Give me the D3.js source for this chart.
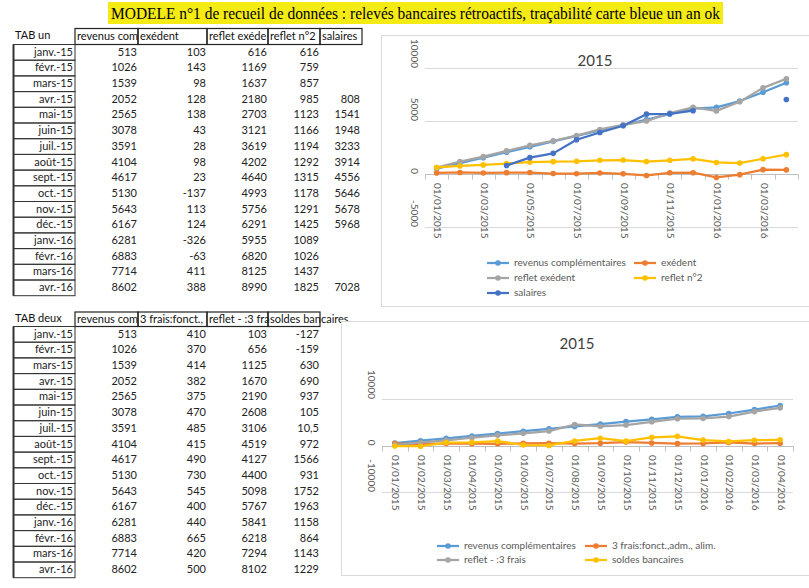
<!DOCTYPE html>
<html>
<head>
<meta charset="utf-8">
<script src="https://cdn.jsdelivr.net/npm/d3@7"></script>
<style>
  body { margin: 0; background: #fff; }
  svg { display: block; }
</style>
</head>
<body>
<div id="page"></div>
<script>
// Data
var months = ["janv.-15", "févr.-15", "mars-15", "avr.-15", "mai-15", "juin-15", "juil.-15", "août-15",
  "sept.-15", "oct.-15", "nov.-15", "déc.-15", "janv.-16", "févr.-16", "mars-16", "avr.-16"];
var dates = ["01/01/2015", "01/02/2015", "01/03/2015", "01/04/2015", "01/05/2015", "01/06/2015",
  "01/07/2015", "01/08/2015", "01/09/2015", "01/10/2015", "01/11/2015", "01/12/2015",
  "01/01/2016", "01/02/2016", "01/03/2016", "01/04/2016"];

// TAB un
var revenus = [513, 1026, 1539, 2052, 2565, 3078, 3591, 4104, 4617, 5130, 5643, 6167, 6281, 6883, 7714, 8602];
var excedent = [103, 143, 98, 128, 138, 43, 28, 98, 23, -137, 113, 124, -326, -63, 411, 388];
var refletExcedent = [616, 1169, 1637, 2180, 2703, 3121, 3619, 4202, 4640, 4993, 5756, 6291, 5955, 6820, 8125, 8990];
var refletN2 = [616, 759, 857, 985, 1123, 1166, 1194, 1292, 1315, 1178, 1291, 1425, 1089, 1026, 1437, 1825];
var salaires = [null, null, null, 808, 1541, 1948, 3233, 3914, 4556, 5646, 5678, 5968, null, null, null, 7028];

// TAB deux
var frais = [410, 370, 414, 382, 375, 470, 485, 415, 490, 730, 545, 400, 440, 665, 420, 500];
var refletFrais = [103, 656, 1125, 1670, 2190, 2608, 3106, 4519, 4127, 4400, 5098, 5767, 5841, 6218, 7294, 8102];
var soldes = [-127, -159, 630, 690, 937, 105, 10.5, 972, 1566, 931, 1752, 1963, 1158, 864, 1143, 1229];

// header cells as they show in the sheet (cut by the cell width)
var cellsUn = ["revenus com", "exédent", "reflet exéde", "reflet n°2", "salaires"];
var cellsDeux = ["revenus com", "3 frais:fonct.,", "reflet - :3 fra", "soldes bancaires"];
// series names used in the legends
var namesUn = ["revenus complémentaires", "exédent", "reflet exédent", "reflet n°2", "salaires"];
var namesDeux = ["revenus complémentaires", "3 frais:fonct.,adm., alim.", "reflet - :3 frais", "soldes bancaires"];

var ticksUn = [10000, 5000, 0, -5000];
var ticksDeux = [10000, 0, -10000];

var colors = {blue: "#5B9BD5", orange: "#ED7D31", gray: "#A5A5A5", yellow: "#FFC000", navy: "#4472C4"};

var W = 809, H = 588;
var svg = d3.select("#page").append("svg").attr("width", W).attr("height", H);

var font = "Lato, 'Open Sans', sans-serif";

// Title with highlight
var title = "MODELE n°1 de recueil de données : relevés bancaires rétroactifs, traçabilité carte bleue un an ok";
svg.append("rect").attr("x", 108).attr("y", 2).attr("width", 615).attr("height", 22).attr("fill", "#F5EB14");
svg.append("text")
  .attr("x", 111).attr("y", 19)
  .attr("textLength", 609).attr("lengthAdjust", "spacingAndGlyphs")
  .style("font-family", "'Liberation Serif', 'Times New Roman', serif")
  .style("font-size", "17px")
  .text(title);

// Draw one spreadsheet block
function drawTable(opt) {
  var g = svg.append("g");
  var colEdges = [75, 138, 207, 268, 320, 362];
  var rowH = 15.7;

  g.append("text").attr("x", 15).attr("y", opt.headY + opt.headH / 2)
    .attr("dominant-baseline", "middle")
    .style("font-family", font).style("font-size", "11px").style("fill", "#111")
    .text(opt.label);

  opt.headers.forEach(function(h, i) {
    var x0 = colEdges[i], x1 = colEdges[i + 1];
    g.append("text").attr("x", x0 + 2).attr("y", opt.headY + opt.headH / 2 + 0.5)
      .attr("dominant-baseline", "middle")
      .style("font-family", font).style("font-size", "11px").style("fill", "#111")
      .text(h);
    g.append("rect").attr("x", x0).attr("y", opt.headY).attr("width", x1 - x0).attr("height", opt.headH)
      .attr("fill", "none").attr("stroke", "#222").attr("stroke-width", 1.2);
  });

  var top = opt.headY + opt.headH;
  months.forEach(function(m, r) {
    var y = top + r * rowH;
    g.append("rect").attr("x", 13.5).attr("y", y).attr("width", 61.5).attr("height", rowH)
      .attr("fill", "none").attr("stroke", "#333").attr("stroke-width", 1);
    g.append("text").attr("x", 73).attr("y", y + rowH / 2 + 0.5)
      .attr("text-anchor", "end").attr("dominant-baseline", "middle")
      .style("font-family", font).style("font-size", "11px").style("fill", "#222")
      .text(m);
    opt.columns.forEach(function(col, c) {
      var v = col[r];
      if (v === null) return;
      g.append("text").attr("x", colEdges[c + 1] - (c === 4 ? 2 : 1)).attr("y", y + rowH / 2 + 0.5)
        .attr("text-anchor", "end").attr("dominant-baseline", "middle")
        .style("font-family", font).style("font-size", "11px").style("fill", "#222")
        .text(String(v).replace(".", ","));
    });
  });
  g.append("line").attr("x1", 13.5).attr("x2", 13.5).attr("y1", top).attr("y2", top + 16 * rowH)
    .attr("stroke", "#333").attr("stroke-width", 2);
}

drawTable({label: "TAB un", headY: 28.5, headH: 16,
  headers: cellsUn, columns: [revenus, excedent, refletExcedent, refletN2, salaires]});
drawTable({label: "TAB deux", headY: 312, headH: 14.5,
  headers: cellsDeux, columns: [revenus, frais, refletFrais, soldes]});

// Excel style line chart
function drawChart(opt) {
  var g = svg.append("g");
  g.append("rect").attr("x", opt.frame[0] + 0.5).attr("y", opt.frame[1] + 0.5)
    .attr("width", opt.frame[2]).attr("height", opt.frame[3])
    .attr("fill", "#fff").attr("stroke", "#D9D9D9");

  var x = d3.scaleBand().domain(dates).range(opt.xRange).paddingInner(0).paddingOuter(0);
  var y = d3.scaleLinear().domain(opt.yDomain).range(opt.yRange);
  var cx = function(i) { return x(dates[i]) + x.bandwidth() / 2; };

  // gridlines
  opt.ticks.forEach(function(t) {
    if (t === 0) return;
    g.append("line").attr("x1", opt.xRange[0]).attr("x2", opt.xRange[1])
      .attr("y1", Math.round(y(t)) + 0.5).attr("y2", Math.round(y(t)) + 0.5)
      .attr("stroke", "#D9D9D9");
  });
  // y labels, rotated
  opt.ticks.forEach(function(t) {
    g.append("text").attr("x", opt.yLabelX).attr("y", y(t))
      .attr("transform", "rotate(90," + opt.yLabelX + "," + y(t) + ")")
      .attr("text-anchor", "end").attr("dominant-baseline", "middle")
      .style("font-family", font).style("font-size", "10px").style("fill", "#595959")
      .text(t);
  });
  // category axis at 0
  var y0 = Math.round(y(0)) + 0.5;
  g.append("line").attr("x1", opt.xRange[0]).attr("x2", opt.xRange[1])
    .attr("y1", y0).attr("y2", y0).attr("stroke", "#BFBFBF");
  dates.concat([null]).forEach(function(d) {
    var tx = Math.round(d === null ? opt.xRange[1] : x(d)) + 0.5;
    g.append("line").attr("x1", tx).attr("x2", tx).attr("y1", y0).attr("y2", y0 + 5)
      .attr("stroke", "#BFBFBF");
  });
  dates.forEach(function(d, i) {
    if (i % opt.labelStep !== 0) return;
    var lx = cx(i);
    g.append("text").attr("x", lx).attr("y", opt.xLabelY)
      .attr("transform", "rotate(90," + lx + "," + opt.xLabelY + ")")
      .attr("dominant-baseline", "middle")
      .style("font-family", font).style("font-size", "10px").style("fill", "#595959")
      .text(d);
  });

  // title
  g.append("text").attr("x", opt.titlePos[0]).attr("y", opt.titlePos[1])
    .attr("text-anchor", "middle").attr("dominant-baseline", "middle")
    .style("font-family", font).style("font-size", "15px").style("fill", "#404040")
    .text("2015");

  // series
  var line = d3.line()
    .defined(function(d) { return d !== null; })
    .x(function(d, i) { return cx(i); })
    .y(function(d) { return y(d); });
  opt.series.forEach(function(s) {
    g.append("path").datum(s.values)
      .attr("d", line)
      .attr("fill", "none").attr("stroke", s.color).attr("stroke-width", 2.25)
      .attr("stroke-linejoin", "round");
    s.values.forEach(function(v, i) {
      if (v === null) return;
      g.append("circle").attr("cx", cx(i)).attr("cy", y(v)).attr("r", 2.8).attr("fill", s.color);
    });
  });

  // legend
  opt.series.forEach(function(s, i) {
    var col = i % 2, row = Math.floor(i / 2);
    var lx = opt.legendX[col], ly = opt.legendY + row * opt.legendRowH;
    g.append("line").attr("x1", lx).attr("x2", lx + 22).attr("y1", ly).attr("y2", ly)
      .attr("stroke", s.color).attr("stroke-width", 2.25);
    g.append("circle").attr("cx", lx + 11).attr("cy", ly).attr("r", 2.8).attr("fill", s.color);
    g.append("text").attr("x", lx + 27).attr("y", ly)
      .attr("dominant-baseline", "middle")
      .style("font-family", font).style("font-size", "10px").style("fill", "#595959")
      .text(s.name);
  });
}

drawChart({
  frame: [381, 35, 440, 271],
  xRange: [425, 798], yDomain: [-5000, 10000], yRange: [227, 68],
  ticks: ticksUn, yLabelX: 414, xLabelY: 183, labelStep: 2,
  titlePos: [595, 62],
  legendX: [487, 634], legendY: 263, legendRowH: 15,
  series: [
    {name: namesUn[0], values: revenus, color: colors.blue},
    {name: namesUn[1], values: excedent, color: colors.orange},
    {name: namesUn[2], values: refletExcedent, color: colors.gray},
    {name: namesUn[3], values: refletN2, color: colors.yellow},
    {name: namesUn[4], values: salaires, color: colors.navy}
  ]
});

drawChart({
  frame: [341, 321, 480, 254],
  xRange: [382, 793], yDomain: [-10000, 10000], yRange: [492, 399],
  ticks: ticksDeux, yLabelX: 371, xLabelY: 455, labelStep: 1,
  titlePos: [577, 345],
  legendX: [437, 585], legendY: 546, legendRowH: 14,
  series: [
    {name: namesDeux[0], values: revenus, color: colors.blue},
    {name: namesDeux[1], values: frais, color: colors.orange},
    {name: namesDeux[2], values: refletFrais, color: colors.gray},
    {name: namesDeux[3], values: soldes, color: colors.yellow}
  ]
});
</script>
</body>
</html>
